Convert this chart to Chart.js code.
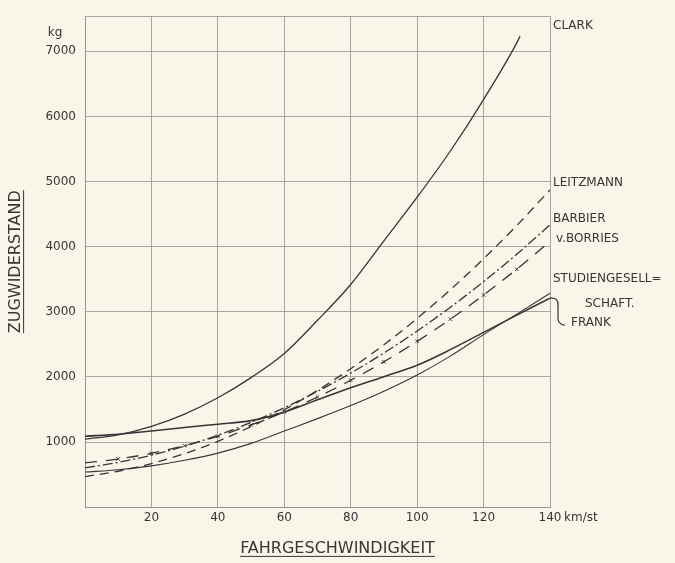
<!DOCTYPE html>
<html>
<head>
<meta charset="utf-8">
<title>Zugwiderstand</title>
<script src="https://cdn.jsdelivr.net/npm/chart.js@4.4.1/dist/chart.umd.min.js"></script>
<style>
  html, body { margin: 0; padding: 0; background: #faf5e9; }
  canvas { display: block; }
</style>
</head>
<body>
<canvas id="zugChart" width="675" height="563"></canvas>
<script>
// speeds in km/st, resistance in kg
const speeds = [0, 10, 20, 30, 40, 50, 60, 70, 80, 90, 100, 110, 120, 130, 140];
const clarkSpeeds = [0, 10, 20, 30, 40, 50, 60, 70, 80, 90, 100, 110, 120, 130, 131];
const clark = [1045, 1110, 1240, 1430, 1680, 1990, 2360, 2870, 3420, 4090, 4760, 5470, 6260, 7130, 7235];
const leitzmann = [470, 552, 670, 823, 1012, 1238, 1497, 1794, 2127, 2495, 2899, 3339, 3815, 4326, 4873];
const barbier = [605, 688, 799, 938, 1106, 1302, 1526, 1779, 2059, 2368, 2705, 3071, 3464, 3885, 4336];
const borries = [680, 740, 828, 945, 1089, 1263, 1463, 1692, 1949, 2234, 2547, 2888, 3258, 3655, 4081];
const studien = [540, 575, 635, 720, 830, 980, 1170, 1360, 1560, 1780, 2030, 2320, 2650, 2965, 3285];
const frank = [1090, 1120, 1170, 1225, 1275, 1330, 1460, 1650, 1835, 2005, 2180, 2420, 2685, 2950, 3210];

const xTicks = [20, 40, 60, 80, 100, 120, 140];
const yTicks = [1000, 2000, 3000, 4000, 5000, 6000, 7000];
const yMax = 7540;

const ink = '#363636';
const gridInk = '#929292';
const labelFont = '12px "DejaVu Sans"';

// names written at the right of the chart (value = height in kg)
const seriesNotes = [
    {text: 'CLARK', value: 7395, dx: 3},
    {text: 'LEITZMANN', value: 4980, dx: 3},
    {text: 'BARBIER', value: 4425, dx: 3},
    {text: 'v.BORRIES', value: 4125, dx: 6},
    {text: 'STUDIENGESELL=', value: 3500, dx: 3},
    {text: 'SCHAFT.', value: 3120, dx: 35},
    {text: 'FRANK', value: 2835, dx: 21}
];

function pts(xs, ys) {
    return xs.map((x, i) => ({x: x, y: ys[i]}));
}

function line(label, xs, ys, extra) {
    return Object.assign({
        label: label,
        data: pts(xs, ys),
        borderColor: ink,
        borderWidth: 1.3,
        pointRadius: 0,
        fill: false,
        cubicInterpolationMode: 'monotone'
    }, extra || {});
}

const notes = {
    id: 'notes',
    afterDraw(chart) {
        const {ctx, chartArea, scales} = chart;
        const y = scales.y, x = scales.x;
        ctx.save();
        ctx.fillStyle = ink;
        ctx.strokeStyle = ink;
        ctx.font = labelFont;
        ctx.textBaseline = 'middle';
        ctx.textAlign = 'left';
        seriesNotes.forEach(n => {
            ctx.fillText(n.text, chartArea.right + n.dx, y.getPixelForValue(n.value));
        });

        // units
        ctx.textAlign = 'center';
        ctx.fillText('kg', 55, y.getPixelForValue(7000) - 18);
        ctx.textAlign = 'left';
        ctx.fillText('km/st', chartArea.right + 14, chartArea.bottom + 11);

        // bracket from the end of Frank's curve to its name
        const fx = x.getPixelForValue(140), fy = y.getPixelForValue(frank[frank.length - 1]);
        ctx.lineWidth = 1.2;
        ctx.beginPath();
        ctx.moveTo(fx, fy);
        ctx.quadraticCurveTo(fx + 9, fy - 1, fx + 8, fy + 8);
        ctx.lineTo(fx + 8, fy + 20);
        ctx.quadraticCurveTo(fx + 8, fy + 26, fx + 15, fy + 27);
        ctx.stroke();

        // underline the y title
        const yt = y.options.title;
        ctx.font = '16px "DejaVu Sans"';
        const tx = y.left + 16 * 1.2 / 2 + yt.padding.top;
        const ty = (y.top + y.bottom) / 2;
        const tw = ctx.measureText(yt.text).width;
        ctx.lineWidth = 1;
        ctx.beginPath();
        ctx.moveTo(tx + 8, ty - tw / 2);
        ctx.lineTo(tx + 8, ty + tw / 2);
        ctx.stroke();

        // underline the x title
        const tb = chart.titleBlock;
        const xw = ctx.measureText(tb.options.text).width;
        const cx = (tb.left + tb.right) / 2;
        const cy = tb.top + tb.options.padding.top + 16 * 1.2 / 2;
        ctx.beginPath();
        ctx.moveTo(cx - xw / 2, cy + 8);
        ctx.lineTo(cx + xw / 2, cy + 8);
        ctx.stroke();
        ctx.restore();
    }
};

Chart.defaults.font.family = '"DejaVu Sans", sans-serif';
Chart.defaults.color = ink;

const config = {
    type: 'line',
    data: {
        datasets: [
            line('Clark', clarkSpeeds, clark),
            line('Leitzmann', speeds, leitzmann, {borderDash: [9, 6]}),
            line('Barbier', speeds, barbier, {borderDash: [10, 3, 2, 3]}),
            line('v. Borries', speeds, borries, {
                borderDash: [12, 9],
                pointStyle: 'crossRot',
                pointRadius: c => (c.dataIndex > 0 && c.dataIndex < borries.length - 1 ? 2.5 : 0),
                pointBorderWidth: 1,
                pointBorderColor: ink
            }),
            line('Studiengesellschaft', speeds, studien, {borderWidth: 1.1}),
            line('Frank', speeds, frank, {borderWidth: 1.6})
        ]
    },
    options: {
        responsive: false,
        animation: false,
        layout: {padding: {top: 5, right: 0, left: 0, bottom: 0}},
        plugins: {
            legend: {display: false},
            tooltip: {enabled: false},
            title: {
                display: true,
                position: 'bottom',
                text: 'FAHRGESCHWINDIGKEIT',
                color: ink,
                font: {size: 16, weight: 'normal'},
                padding: {top: 6, bottom: 5}
            }
        },
        scales: {
            x: {
                type: 'linear',
                min: 0,
                max: 140,
                afterBuildTicks: s => { s.ticks = [0].concat(xTicks).map(v => ({value: v})); },
                afterFit: s => { s.height = 25.6; },
                ticks: {
                    autoSkip: false,
                    maxRotation: 0,
                    padding: 3,
                    font: {size: 12},
                    callback: v => (v === 0 ? '' : String(v))
                },
                grid: {color: gridInk, lineWidth: 0.8, drawTicks: false},
                border: {color: gridInk, width: 1}
            },
            y: {
                type: 'linear',
                min: 0,
                max: yMax,
                afterBuildTicks: s => { s.ticks = [0].concat(yTicks, [yMax]).map(v => ({value: v})); },
                afterFit: s => { s.width = 85; },
                ticks: {
                    autoSkip: false,
                    padding: 9,
                    font: {size: 12},
                    callback: v => (yTicks.includes(v) ? String(v) : '')
                },
                grid: {color: gridInk, lineWidth: 0.8, drawTicks: false},
                border: {color: gridInk, width: 1},
                title: {
                    display: true,
                    text: 'ZUGWIDERSTAND',
                    color: ink,
                    font: {size: 16},
                    padding: {top: 6, bottom: 0}
                }
            },
            side: {
                type: 'linear',
                position: 'right',
                afterFit: s => { s.width = 125; },
                ticks: {display: false},
                grid: {display: false, drawOnChartArea: false},
                border: {display: false}
            }
        }
    },
    plugins: [notes]
};

const zugChart = new Chart(document.getElementById('zugChart'), config);
</script>
</body>
</html>
